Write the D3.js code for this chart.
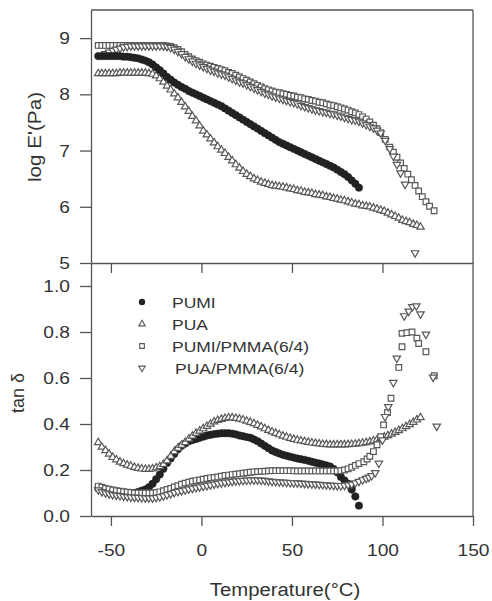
<!DOCTYPE html>
<html><head><meta charset="utf-8">
<script src="https://cdn.jsdelivr.net/npm/d3@7"></script>
<style>
body{margin:0;background:#fff}
svg{display:block;background:#fff}
text{font-family:"Liberation Sans",Arial,Helvetica,sans-serif;fill:#333}
</style>
</head><body>
<svg id="chart" width="492" height="601"></svg>
<script>
// ---------------- data ----------------
const seriesNames = ["PUMI", "PUA", "PUMI/PMMA(6/4)", "PUA/PMMA(6/4)"];
const xTicks = [-50, 0, 50, 100, 150];
const modulusTicks = [5, 6, 7, 8, 9];
const tanTicks = [0.0, 0.2, 0.4, 0.6, 0.8, 1.0];

// common temperature grid (°C) of the dense measurements
const temps = [
  -57,-55,-53,-51,-49,-47,-45,-43,-41,-39,
  -37,-35,-33,-31,-29,-27,-25,-23,-21,-19,
  -17,-15,-13,-11,-9,-7,-5,-3,-1,1,
  3,5,7,9,11,13,15,17,19,21,
  23,25,27,29,31,33,35,37,39,41,
  43,45,47,49,51,53,55,57,59,61,
  63,65,67,69,71,73,75,77,79,81,
  83,85,87,89,91,93,95,97,99,101,
  103,105,107,109,111,113,115,117,119,121
];

// log E' (Pa)
const logE_PUMI = [
  8.68,8.68,8.68,8.68,8.68,8.68,8.68,8.67,8.67,8.66,
  8.65,8.64,8.62,8.60,8.57,8.53,8.48,8.43,8.37,8.31,
  8.26,8.21,8.17,8.13,8.10,8.06,8.03,8.00,7.97,7.94,
  7.91,7.88,7.85,7.82,7.79,7.75,7.71,7.67,7.63,7.59,
  7.55,7.51,7.47,7.43,7.39,7.35,7.31,7.27,7.23,7.19,
  7.15,7.12,7.09,7.06,7.03,7.00,6.97,6.94,6.91,6.88,
  6.85,6.82,6.79,6.76,6.73,6.70,6.66,6.62,6.58,6.53,
  6.47,6.41,6.34,null,null,null,null,null,null,null,
  null,null,null,null,null,null,null,null,null,null
];
const logE_PUA = [
  8.37,8.37,8.37,8.37,8.37,8.37,8.38,8.38,8.38,8.38,
  8.38,8.38,8.38,8.38,8.37,8.36,8.33,8.28,8.22,8.15,
  8.08,8.01,7.94,7.86,7.78,7.70,7.61,7.53,7.44,7.35,
  7.28,7.21,7.14,7.07,7.01,6.95,6.88,6.82,6.75,6.69,
  6.63,6.58,6.54,6.50,6.47,6.44,6.42,6.40,6.38,6.37,
  6.36,6.35,6.34,6.32,6.31,6.29,6.28,6.26,6.25,6.24,
  6.22,6.21,6.20,6.18,6.17,6.15,6.14,6.12,6.11,6.09,
  6.07,6.05,6.04,6.02,6.01,6.00,5.98,5.96,5.94,5.92,
  5.89,5.86,5.83,5.80,5.76,5.74,5.72,5.69,5.67,5.64
];
const logE_PUMIPMMA = [
  8.87,8.87,8.87,8.87,8.87,8.87,8.87,8.87,8.87,8.87,
  8.87,8.87,8.87,8.87,8.87,8.87,8.87,8.87,8.87,8.86,
  8.85,8.83,8.80,8.76,8.71,8.67,8.63,8.60,8.57,8.54,
  8.52,8.50,8.48,8.46,8.44,8.42,8.39,8.37,8.34,8.31,
  8.28,8.25,8.22,8.19,8.16,8.13,8.10,8.08,8.06,8.04,
  8.03,8.01,8.00,7.98,7.97,7.95,7.94,7.92,7.91,7.89,
  7.88,7.86,7.85,7.83,7.81,7.80,7.78,7.76,7.74,7.72,
  7.69,7.67,7.64,7.60,7.56,7.51,7.45,7.39,7.32,null,
  null,null,null,null,null,null,null,null,null,null
];
const logE_PUMIPMMA_tailT = [101.5,104,106,108,110,112,114,116,118,120,122,124,126,128.5];
const logE_PUMIPMMA_tailV = [7.20,7.06,6.97,6.88,6.78,6.68,6.58,6.48,6.38,6.28,6.18,6.09,6.01,5.93];
const logE_PUAPMMA = [
  null,null,8.72,8.75,8.78,8.80,8.82,8.84,8.85,8.86,
  8.86,8.86,8.86,8.86,8.86,8.86,8.86,8.86,8.86,8.85,
  8.83,8.80,8.76,8.72,8.67,8.63,8.59,8.55,8.52,8.49,
  8.46,8.43,8.41,8.38,8.36,8.34,8.31,8.28,8.25,8.22,
  8.20,8.17,8.14,8.11,8.08,8.05,8.02,8.00,7.97,7.95,
  7.93,7.91,7.89,7.87,7.85,7.83,7.80,7.78,7.76,7.74,
  7.72,7.71,7.69,7.68,7.66,7.65,7.63,7.61,7.59,7.57,
  7.55,7.54,7.52,7.49,7.46,7.43,7.40,7.36,7.31,null,
  null,null,null,null,null,null,null,null,null,null
];
const logE_PUAPMMA_tailT = [101.5,104,106,108,110,112.5,118];
const logE_PUAPMMA_tailV = [7.18,7.03,6.90,6.75,6.60,6.40,5.18];

// tan delta
const tan_PUMI = [
  0.12,0.115,0.11,0.107,0.104,0.10,0.10,0.10,0.10,0.10,
  0.10,0.105,0.11,0.115,0.125,0.14,0.16,0.18,0.205,0.23,
  0.25,0.27,0.29,0.305,0.315,0.325,0.33,0.335,0.34,0.345,
  0.35,0.353,0.356,0.358,0.36,0.36,0.36,0.358,0.355,0.35,
  0.347,0.343,0.34,0.333,0.325,0.315,0.305,0.295,0.285,0.278,
  0.272,0.266,0.262,0.258,0.254,0.25,0.247,0.244,0.24,0.236,
  0.232,0.228,0.224,0.22,0.215,0.205,0.19,0.17,0.155,0.14,
  0.115,0.085,0.045,null,null,null,null,null,null,null,
  null,null,null,null,null,null,null,null,null,null
];
const tan_PUA = [
  0.32,0.30,0.285,0.27,0.255,0.245,0.235,0.228,0.222,0.217,
  0.212,0.208,0.205,0.203,0.203,0.205,0.21,0.215,0.225,0.24,
  0.26,0.28,0.295,0.308,0.32,0.335,0.348,0.36,0.37,0.38,
  0.39,0.40,0.41,0.416,0.421,0.425,0.427,0.427,0.425,0.422,
  0.418,0.413,0.408,0.402,0.395,0.388,0.38,0.373,0.366,0.36,
  0.354,0.348,0.343,0.338,0.334,0.33,0.327,0.324,0.321,0.318,
  0.316,0.314,0.312,0.311,0.31,0.31,0.31,0.31,0.31,0.311,
  0.312,0.313,0.315,0.317,0.32,0.323,0.327,0.332,0.338,0.344,
  0.35,0.357,0.364,0.372,0.38,0.389,0.398,0.408,0.418,0.428
];
const tan_PUMIPMMA = [
  0.13,0.125,0.12,0.117,0.113,0.11,0.108,0.106,0.104,0.102,
  0.10,0.10,0.10,0.10,0.10,0.10,0.102,0.105,0.11,0.115,
  0.12,0.126,0.132,0.138,0.143,0.147,0.151,0.154,0.157,0.16,
  0.163,0.166,0.168,0.17,0.173,0.176,0.178,0.18,0.182,0.184,
  0.186,0.188,0.19,0.192,0.193,0.194,0.195,0.196,0.197,0.197,
  0.197,0.197,0.197,0.197,0.196,0.196,0.196,0.196,0.196,0.196,
  0.196,0.196,0.196,0.196,0.196,0.196,0.196,0.197,0.20,0.205,
  0.212,0.22,0.228,null,null,null,null,null,null,null,
  null,null,null,null,null,null,null,null,null,null
];
const tan_PUMIPMMA_tailT = [89.7,91.5,93,95,97,99,100.6,102.8,104.7,109,110.8,110.8,113.5,116.3,119,120,124,128.6];
const tan_PUMIPMMA_tailV = [0.236,0.248,0.26,0.28,0.31,0.345,0.396,0.45,0.512,0.646,0.736,0.794,0.797,0.80,0.773,0.75,0.714,0.61];
const tan_PUAPMMA = [
  0.113,0.105,0.10,0.096,0.092,0.09,0.088,0.086,0.084,0.082,
  0.081,0.08,0.079,0.078,0.078,0.078,0.08,0.083,0.087,0.092,
  0.097,0.102,0.106,0.11,0.113,0.117,0.12,0.123,0.126,0.129,
  0.132,0.135,0.138,0.141,0.144,0.146,0.148,0.15,0.152,0.153,
  0.154,0.155,0.156,0.156,0.156,0.155,0.154,0.152,0.15,0.149,
  0.148,0.147,0.146,0.145,0.144,0.143,0.142,0.141,0.14,0.139,
  0.138,0.137,0.136,0.135,0.134,0.133,0.132,0.132,0.133,0.135,
  0.138,0.143,0.15,0.157,null,null,null,null,null,null,
  null,null,null,null,null,null,null,null,null,null
];
const tan_PUAPMMA_tailT = [91,92.5,94,96,98,100,101.4,103.2,106,107.9,112,114.5,116.5,118.7,121,124,128,130];
const tan_PUAPMMA_tailV = [0.163,0.168,0.175,0.188,0.229,0.33,0.432,0.475,0.58,0.686,0.87,0.89,0.91,0.913,0.878,0.79,0.603,0.39];

// ---------------- chart ----------------
const svg = d3.select("#chart");
const x = d3.scaleLinear().domain([-61, 150]).range([91, 473]);
const yTop = d3.scaleLinear().domain([5, 9.5]).range([263, 10]);
const yBot = d3.scaleLinear().domain([0, 1.1]).range([516, 263]);
const SX = 1.13; // horizontal stretch of the original lettering
const axisColor = "#555";
const markColor = "#585858";

function pts(vals, tailT, tailV) {
  const p = [];
  temps.forEach((t, i) => { if (vals[i] != null) p.push([t, vals[i]]); });
  if (tailT) tailT.forEach((t, i) => p.push([t, tailV[i]]));
  return p;
}

const triPath = d3.symbol(d3.symbolTriangle, 24)();
const sqPath = d3.symbol(d3.symbolSquare, 32)();

function drawSeries(g, data, y, kind) {
  const sel = g.append("g");
  if (kind === "circle") {
    sel.selectAll("circle").data(data).join("circle")
      .attr("cx", d => x(d[0])).attr("cy", d => y(d[1])).attr("r", 3.7)
      .attr("fill", "#232323").attr("stroke", "#1c1c1c").attr("stroke-width", 0.6);
  } else {
    const path = kind === "square" ? sqPath : triPath;
    const rot = kind === "down" ? " rotate(180)" : "";
    sel.selectAll("path").data(data).join("path")
      .attr("d", path)
      .attr("transform", d => `translate(${x(d[0])},${y(d[1])})${rot}`)
      .attr("fill", "#fff").attr("stroke", markColor).attr("stroke-width", 1.2);
  }
}

const plot = svg.append("g");
// top panel: log E'
drawSeries(plot, pts(logE_PUA), yTop, "up");
drawSeries(plot, pts(logE_PUMIPMMA, logE_PUMIPMMA_tailT, logE_PUMIPMMA_tailV), yTop, "square");
drawSeries(plot, pts(logE_PUAPMMA, logE_PUAPMMA_tailT, logE_PUAPMMA_tailV), yTop, "down");
drawSeries(plot, pts(logE_PUMI), yTop, "circle");
// bottom panel: tan delta
drawSeries(plot, pts(tan_PUMI), yBot, "circle");
drawSeries(plot, pts(tan_PUA), yBot, "up");
drawSeries(plot, pts(tan_PUMIPMMA, tan_PUMIPMMA_tailT, tan_PUMIPMMA_tailV), yBot, "square");
drawSeries(plot, pts(tan_PUAPMMA, tan_PUAPMMA_tailT, tan_PUAPMMA_tailV), yBot, "down");

// axes
function styleAxis(g) {
  g.selectAll("path.domain").attr("stroke", axisColor).attr("stroke-width", 1.3);
  g.selectAll(".tick line").attr("stroke", axisColor).attr("stroke-width", 1.3);
  g.selectAll(".tick text").attr("fill", "#333").attr("font-size", 17)
    .attr("font-family", '"Liberation Sans", Arial, sans-serif');
}
const gTopL = svg.append("g").attr("transform", "translate(91,0)")
  .call(d3.axisLeft(yTop).tickValues(modulusTicks).tickSize(11).tickSizeOuter(0).tickPadding(10).tickFormat(d => String(d)));
const gBotL = svg.append("g").attr("transform", "translate(91,0)")
  .call(d3.axisLeft(yBot).tickValues(tanTicks).tickSize(11).tickSizeOuter(0).tickPadding(10).tickFormat(d3.format(".1f")));
[gTopL, gBotL].forEach(g => {
  styleAxis(g);
  g.selectAll(".tick text").each(function () {
    const t = d3.select(this); const xx = +t.attr("x");
    t.attr("x", 0).attr("transform", `translate(${xx},0) scale(${SX},1)`);
  });
});
const gBottom = svg.append("g").attr("transform", "translate(0,516)")
  .call(d3.axisBottom(x).tickValues(xTicks).tickSize(10).tickSizeOuter(0).tickPadding(18).tickFormat(d => String(d)));
styleAxis(gBottom);
gBottom.selectAll(".tick text").attr("transform", `scale(${SX},1)`).attr("x", 0);
const gMid = svg.append("g").attr("transform", "translate(0,263)")
  .call(d3.axisBottom(x).tickValues(xTicks.slice(0, 4)).tickSize(10).tickSizeOuter(0).tickFormat(""));
styleAxis(gMid);
// frame (top and right)
svg.append("line").attr("x1", 91).attr("x2", 473).attr("y1", 10).attr("y2", 10)
  .attr("stroke", axisColor).attr("stroke-width", 1.3);
svg.append("line").attr("x1", 473).attr("x2", 473).attr("y1", 10).attr("y2", 516)
  .attr("stroke", axisColor).attr("stroke-width", 1.3);

// axis titles
svg.append("text").attr("transform", "translate(35,137) rotate(-90)")
  .attr("text-anchor", "middle").attr("dominant-baseline", "central")
  .attr("font-size", 18).attr("textLength", 90).attr("lengthAdjust", "spacingAndGlyphs")
  .text("log E'(Pa)");
svg.append("text").attr("transform", "translate(18,393) rotate(-90)")
  .attr("text-anchor", "middle").attr("dominant-baseline", "central")
  .attr("font-size", 18).text("tan δ");
svg.append("text").attr("transform", `translate(285,596) scale(${SX},1)`)
  .attr("text-anchor", "middle").attr("font-size", 18).text("Temperature(°C)");

// legend
const legendY = [302, 324, 346, 368];
const legendKinds = ["circle", "up", "square", "down"];
const legendTextX = [172, 172, 172, 175];
const lg = svg.append("g");
legendKinds.forEach((k, i) => {
  const cy = legendY[i];
  if (k === "circle") {
    lg.append("circle").attr("cx", 142).attr("cy", cy).attr("r", 3.2).attr("fill", "#232323");
  } else {
    lg.append("path").attr("d", k === "square" ? d3.symbol(d3.symbolSquare, 22)() : d3.symbol(d3.symbolTriangle, 18)())
      .attr("transform", `translate(142,${cy})${k === "down" ? " rotate(180)" : ""}`)
      .attr("fill", "#fff").attr("stroke", markColor).attr("stroke-width", 1.1);
  }
  lg.append("text").attr("transform", `translate(${legendTextX[i]},${cy + 5.5}) scale(${SX},1)`)
    .attr("font-size", 15.5).text(seriesNames[i]);
});
</script>
</body></html>
